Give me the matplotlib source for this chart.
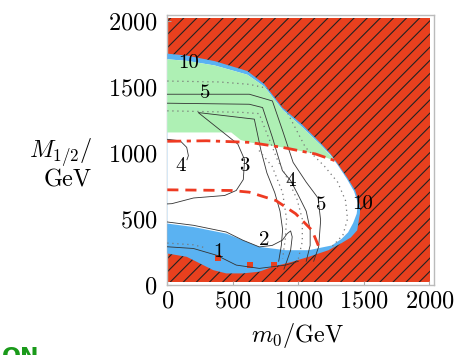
import numpy as np
import matplotlib
matplotlib.use('Agg')
import matplotlib.pyplot as plt
from matplotlib.patches import Polygon, Rectangle

plt.rcParams['font.family'] = 'serif'
plt.rcParams['font.serif'] = ['cmr10']
plt.rcParams['mathtext.fontset'] = 'cm'
plt.rcParams['axes.formatter.use_mathtext'] = True
plt.rcParams['axes.unicode_minus'] = False

# outer edge of the allowed region (m0, M1/2) in GeV
edge_m0 = [0, 150, 362, 611, 740, 878, 1026, 1177, 1245, 1300, 1373, 1434, 1472, 1470, 1449, 1400,
           1328, 1230, 1079, 953, 803, 702, 576, 450, 350, 274, 148, 0]
edge_M = [1755, 1740, 1698, 1623, 1524, 1346, 1220, 1069, 996, 920, 815, 717, 600, 543, 415, 360,
          317, 264, 214, 176, 138, 101, 88, 88, 113, 151, 214, 239]

# white (inner) region
inner_m0 = [0, 150, 362, 611, 740, 878, 1026, 1177, 1245, 1300, 1370, 1425, 1455, 1445, 1418, 1380,
            1330, 1255, 1079, 903, 702, 576, 450, 199, 0]
inner_M = [1712, 1700, 1665, 1595, 1505, 1330, 1200, 1055, 985, 910, 805, 710, 620, 540, 470, 400,
           350, 300, 264, 264, 289, 340, 390, 440, 466]

# green band
green_m0 = [0, 150, 362, 611, 740, 878, 1026, 1177, 1280, 1130, 878, 626, 560, 488, 0]
green_M = [1712, 1700, 1665, 1595, 1505, 1330, 1200, 1055, 943, 994, 1044, 1082, 1100, 1157, 1157]

# small excluded spots inside the blue band
spot_m0 = [387, 626, 815]
spot_M = [205, 151, 151]

# red bounds
dashdot_m0 = [0, 300, 626, 878, 1130, 1280]
dashdot_M = [1090, 1094, 1082, 1044, 994, 943]
dashed_m0 = [0, 488, 626, 828, 979, 1104, 1167]
dashed_M = [722, 717, 704, 641, 541, 415, 264]

# contour lines
solid_lines = [
    ([0, 626, 802, 880, 960, 1060, 1150, 1170, 1155, 1117],
     [1447, 1447, 1396, 1170, 930, 780, 660, 490, 290, 180]),
    ([0, 626, 727, 802, 878, 941, 1000, 1060, 1090, 1090, 1060],
     [1379, 1371, 1346, 1119, 868, 792, 680, 560, 420, 300, 180]),
    ([850, 870, 880, 860, 820, 760, 715, 664, 236, 538, 590, 580, 526, 438, 200, 35, 0],
     [180, 300, 420, 560, 700, 850, 1019, 1258, 1308, 1069, 950, 800, 717, 679, 660, 617, 615]),
    ([0, 98, 148, 161, 150],
     [1105, 1094, 1044, 981, 950]),
    ([0, 199, 450, 576, 702, 800, 878, 915, 941, 953, 941, 915, 890],
     [478, 453, 402, 340, 289, 300, 340, 390, 410, 365, 264, 189, 120]),
    ([0, 199, 375, 526, 702, 903, 1000],
     [290, 277, 226, 151, 126, 151, 180]),
]
dotted_lines = [
    ([0, 400, 626, 820, 920, 1054, 1200, 1300, 1360, 1375, 1340, 1255],
     [1547, 1540, 1522, 1480, 1300, 1044, 900, 780, 640, 500, 380, 289]),
    ([0, 560, 700, 760, 840, 920, 990, 1030, 1030, 1000],
     [1321, 1310, 1300, 1150, 950, 800, 650, 500, 330, 200]),
    ([700, 800, 880, 910, 900, 880],
     [1020, 900, 700, 500, 350, 200]),
    ([0, 199, 300],
     [318, 305, 280]),
]

label_text = ['10', '5', '4', '3', '4', '5', '10', '2', '1']
label_m0 = [161, 287, 98, 589, 941, 1177, 1494, 740, 387]
label_M = [1685, 1459, 906, 906, 792, 604, 617, 340, 250]

red = '#e8401e'
blue = '#5ab2f2'
green = '#aef0b4'

fig = plt.figure(figsize=(4.6, 3.55), dpi=100)
ax = fig.add_axes([167.3 / 460, 70 / 355, 266.7 / 460, 270 / 355])
ax.set_xlim(0, 2035)
ax.set_ylim(0, 2048)

bg = Rectangle((8, 25), 1995, 1998, facecolor=red, edgecolor='none', zorder=1)
ax.add_patch(bg)
for c in np.arange(-2000, 2100, 100):
    ln, = ax.plot([0, 2100], [c, c + 2100], color='#222222', lw=0.8, zorder=2)
    ln.set_clip_path(bg)

ax.add_patch(Polygon(np.column_stack([edge_m0, edge_M]), closed=True,
                     facecolor=blue, edgecolor='none', zorder=3))
for x, y in zip(spot_m0, spot_M):
    ax.add_patch(Rectangle((x - 20, y - 20), 45, 45, facecolor=red, edgecolor='none', zorder=3.5))
ax.add_patch(Polygon(np.column_stack([inner_m0, inner_M]), closed=True,
                     facecolor='white', edgecolor='none', zorder=4))
ax.add_patch(Polygon(np.column_stack([green_m0, green_M]), closed=True,
                     facecolor=green, edgecolor='none', zorder=5))

for xs, ys in solid_lines:
    ax.plot(xs, ys, color='#333333', lw=0.6, zorder=6)
for xs, ys in dotted_lines:
    ax.plot(xs, ys, color='#777777', lw=0.9, ls=(0, (1, 3)), zorder=6)

ax.plot(dashed_m0, dashed_M, color='#ee3a22', lw=2.0, ls=(0, (4, 2.5)), zorder=7)
ax.plot(dashdot_m0, dashdot_M, color='#ee3a22', lw=2.0, ls=(0, (5, 2, 1.5, 2)), zorder=7)

for t, x, y in zip(label_text, label_m0, label_M):
    ax.text(x, y, t, fontsize=15, ha='center', va='center', zorder=8)

ax.set_xticks([0, 500, 1000, 1500, 2000])
ax.set_yticks([0, 500, 1000, 1500, 2000])
ax.tick_params(direction='in', length=3, color='#aaaaaa', labelsize=17.5)
ax.tick_params(axis='y', pad=7)
ax.tick_params(axis='x', pad=4)
for s in ax.spines.values():
    s.set_color('#bbbbbb')
    s.set_linewidth(1.0)

fig.text(92 / 460, 1 - 164 / 355, r'$M_{1/2}/$' + '\nGeV', fontsize=17.5, ha='right',
         va='center', multialignment='right', linespacing=1.0)
fig.text(298 / 460, 1 - 335 / 355, r'$m_0/\mathrm{GeV}$', fontsize=17.5, ha='center', va='center')
fig.text(2 / 460, 1 - 347 / 355, 'ON', fontsize=16, color='#1a9a1a', weight='bold',
         family='DejaVu Sans', ha='left', va='top')

fig.savefig('out.png', dpi=100)
